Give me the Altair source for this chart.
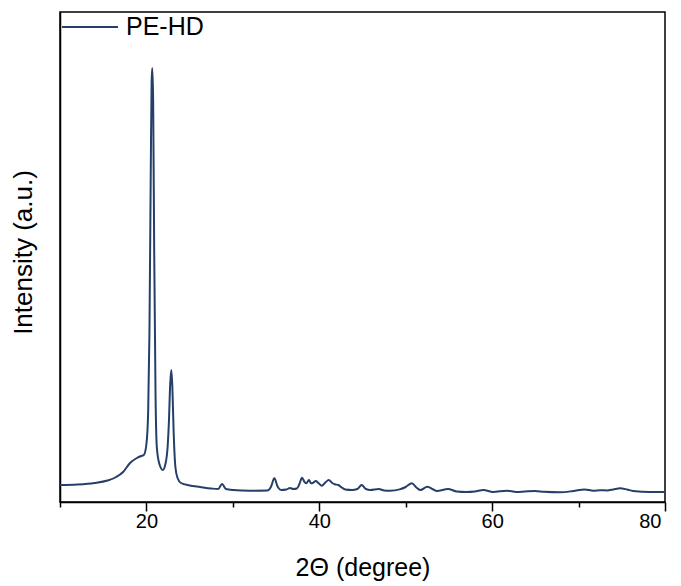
import altair as alt
import pandas as pd

# 2-theta (degree) and intensity (a.u.)
two_theta = [10, 12, 14, 15.5, 16.5, 17.3, 18.1, 18.9, 19.4, 19.7, 20.0, 20.2, 20.35, 20.5, 20.6,
             20.68, 20.78, 20.9, 21.05, 21.2, 21.5, 21.9, 22.2, 22.45, 22.6, 22.75, 22.88, 23.0,
             23.15, 23.35, 23.6, 24.0, 25.0, 26.2, 27.5, 28.3, 28.75, 29.2, 30.0, 32.0, 34.0, 34.4,
             34.8, 35.2, 35.6, 36.2, 36.6, 37.0, 37.4, 37.7, 38.0, 38.3, 38.5, 38.8, 39.05, 39.25,
             39.6, 39.9, 40.3, 40.7, 41.1, 41.5, 41.8, 42.2, 42.6, 43.0, 43.8, 44.4, 44.9, 45.4,
             45.9, 46.9, 47.5, 48.2, 49.3, 50.0, 50.7, 51.3, 51.7, 52.5, 53.2, 53.6, 54.9, 55.9,
             57.0, 58.0, 59.0, 60.1, 61.7, 62.8, 63.8, 64.95, 66.0, 67.85, 69.4, 70.7, 71.7, 72.5,
             73.3, 74.0, 74.8, 75.6, 76.3, 78.3, 80.0]
intensity = [17, 17.5, 19, 21.5, 25, 30, 39, 44, 46, 47, 58, 90, 170, 330, 420,
             434, 400, 250, 110, 55, 38, 32, 38, 55, 80, 118, 132, 115,
             70, 35, 24, 19, 16.5, 15, 13.5, 13, 18, 13, 12, 11.3, 11.5, 15,
             23.7, 15, 12, 12.5, 14, 13, 13.5, 18, 24.3, 20, 18.7, 22, 18.7, 19,
             21, 19, 16.3, 19.5, 22, 19, 17.7, 17, 14.5, 12.5, 12, 13, 17, 13,
             12, 13, 11.5, 11.3, 12.6, 15, 18.7, 14, 12, 15.3, 12.5, 11, 13, 10.5,
             10, 10.5, 12, 10, 11.3, 10, 10.5, 11, 10.2, 9.7, 11, 12.6, 11.3, 11.8,
             11.6, 12.5, 13.7, 12.5, 11, 10, 10]
series_name = ["PE-HD"]
x_ticks = [10, 20, 30, 40, 50, 60, 70, 80]

df = pd.DataFrame({"x": two_theta, "y": intensity, "series": series_name * len(two_theta)})

FONT = "Liberation Sans"
LINE_COLOR = "#253f68"

chart = alt.Chart(df).mark_line(strokeWidth=2, interpolate="monotone").encode(
    x=alt.X("x:Q",
            scale=alt.Scale(domain=[10, 80], nice=False, zero=False),
            axis=alt.Axis(values=x_ticks, title="2Θ (degree)", grid=False,
                          labelExpr="datum.value % 20 == 0 && datum.value > 10 ? datum.label : ''",
                          labelOffset={"condition": {"test": "datum.value == 80", "value": -4}, "value": 0},
                          tickSize={"condition": {"test": "datum.value % 20 == 0", "value": 9}, "value": 5},
                          tickWidth=1.5, tickColor="black", domainColor="black", domainWidth=1.5,
                          labelFont=FONT, labelFontSize=20, labelColor="black", labelPadding=0,
                          labelBound=False, labelOverlap=False,
                          titleFont=FONT, titleFontSize=25, titleFontWeight="normal",
                          titleColor="black", titlePadding=24)),
    y=alt.Y("y:Q",
            scale=alt.Scale(domain=[0, 490], nice=False, zero=True),
            axis=alt.Axis(title="Intensity (a.u.)", ticks=False, labels=False, grid=False,
                          domainColor="black", domainWidth=1.5, minExtent=0,
                          titleFont=FONT, titleFontSize=26, titleFontWeight="normal",
                          titleColor="black", titlePadding=24, titleY=240)),
    color=alt.Color("series:N", scale=alt.Scale(range=[LINE_COLOR]),
                    legend=alt.Legend(title=None, orient="none", legendX=1, legendY=-14,
                                      padding=0, symbolType="stroke", symbolSize=3136,
                                      symbolStrokeWidth=2, labelFont=FONT, labelFontSize=25,
                                      labelColor="black", labelOffset=7)),
).properties(
    width=605, height=490,
    background="white",
    view=alt.ViewBackground(stroke="black", strokeWidth=1.5),
    autosize=alt.AutoSizeParams(type="none"),
    padding={"left": 52, "top": 4, "right": 8, "bottom": 80},
).configure_view(stroke="black", strokeWidth=1.5)

chart.save("out.html", embed_options={"renderer": "svg", "actions": False})
